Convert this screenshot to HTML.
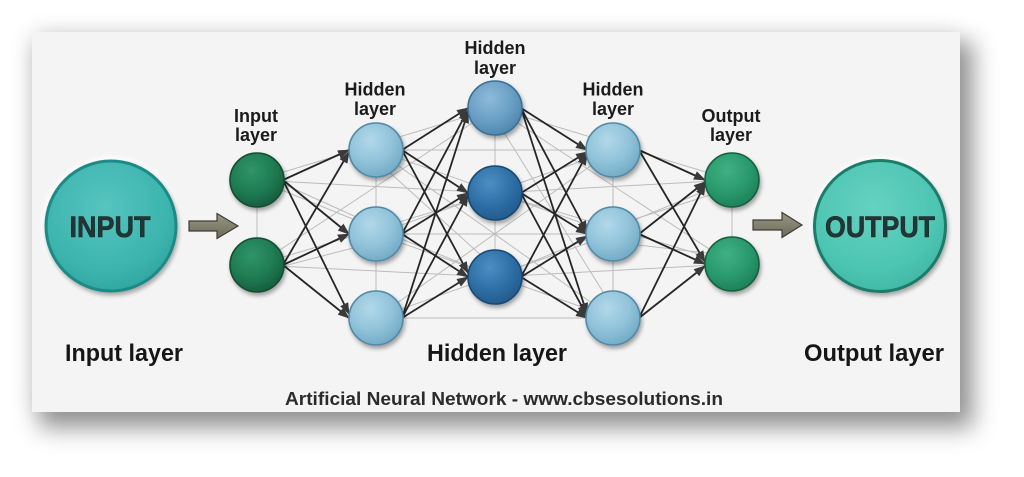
<!DOCTYPE html>
<html>
<head>
<meta charset="utf-8">
<style>
  html,body{margin:0;padding:0;background:#ffffff;}
  body{width:1024px;height:477px;position:relative;overflow:hidden;}
  .card{position:absolute;left:32px;top:32px;width:928px;height:380px;background:#f4f4f4;
    box-shadow:10px 13px 22px 3px rgba(0,0,0,0.42), -3px -3px 22px rgba(0,0,0,0.06);}
  svg{position:absolute;left:0;top:0;}
  text{font-family:"Liberation Sans",Arial,sans-serif;font-weight:bold;}
</style>
</head>
<body>
<div class="card"></div>
<svg width="1024" height="477" viewBox="0 0 1024 477" xmlns="http://www.w3.org/2000/svg">
  <defs>
    <marker id="ah" viewBox="0 0 12 9" refX="11" refY="4.5" markerWidth="12" markerHeight="9" markerUnits="userSpaceOnUse" orient="auto">
      <path d="M0,0 L12,4.5 L0,9 z" fill="#3a3a3a"/>
    </marker>
    <filter id="sh" x="-30%" y="-30%" width="170%" height="170%">
      <feGaussianBlur in="SourceAlpha" stdDeviation="2.2"/>
      <feOffset dx="1.5" dy="3" result="o"/>
      <feComponentTransfer><feFuncA type="linear" slope="0.35"/></feComponentTransfer>
      <feMerge><feMergeNode/><feMergeNode in="SourceGraphic"/></feMerge>
    </filter>
    <filter id="halo" x="-30%" y="-30%" width="160%" height="160%">
      <feGaussianBlur stdDeviation="2"/>
    </filter>
    <radialGradient id="gGreen" cx="40%" cy="32%" r="70%">
      <stop offset="0" stop-color="#2f9568"/><stop offset="0.6" stop-color="#1f7b52"/><stop offset="1" stop-color="#165e3e"/>
    </radialGradient>
    <radialGradient id="gLB" cx="40%" cy="32%" r="70%">
      <stop offset="0" stop-color="#b2d8e9"/><stop offset="0.6" stop-color="#8fc2d9"/><stop offset="1" stop-color="#74aac6"/>
    </radialGradient>
    <radialGradient id="gMB" cx="40%" cy="32%" r="70%">
      <stop offset="0" stop-color="#8dbad9"/><stop offset="0.6" stop-color="#6a9fc5"/><stop offset="1" stop-color="#5087ae"/>
    </radialGradient>
    <radialGradient id="gDB" cx="40%" cy="32%" r="70%">
      <stop offset="0" stop-color="#4d8fc2"/><stop offset="0.6" stop-color="#2e6fa6"/><stop offset="1" stop-color="#235b8b"/>
    </radialGradient>
    <radialGradient id="gOG" cx="40%" cy="32%" r="70%">
      <stop offset="0" stop-color="#3eb182"/><stop offset="0.6" stop-color="#2a9a6d"/><stop offset="1" stop-color="#1f7f58"/>
    </radialGradient>
    <radialGradient id="gIN" cx="45%" cy="35%" r="70%">
      <stop offset="0" stop-color="#56c4bf"/><stop offset="0.7" stop-color="#3db4ae"/><stop offset="1" stop-color="#2fa39d"/>
    </radialGradient>
    <radialGradient id="gOUT" cx="45%" cy="35%" r="70%">
      <stop offset="0" stop-color="#65d2c0"/><stop offset="0.7" stop-color="#4dc5b2"/><stop offset="1" stop-color="#3fb4a2"/>
    </radialGradient>
    <linearGradient id="gArr" x1="0" y1="0" x2="0" y2="1">
      <stop offset="0" stop-color="#9a9784"/><stop offset="1" stop-color="#6c6a5a"/>
    </linearGradient>
  </defs>

  <!-- faint gray mesh -->
  <g stroke="#bcbcbc" stroke-width="1" fill="none">
    <line x1="257" y1="180" x2="257" y2="265"/>
    <line x1="376" y1="150" x2="376" y2="318"/>
    <line x1="495" y1="108" x2="495" y2="277"/>
    <line x1="613" y1="150" x2="613" y2="318"/>
    <line x1="732" y1="180" x2="732" y2="264"/>
    <line x1="257" y1="180" x2="495" y2="108"/>
    <line x1="257" y1="180" x2="495" y2="193"/>
    <line x1="257" y1="180" x2="495" y2="277"/>
    <line x1="257" y1="265" x2="495" y2="108"/>
    <line x1="257" y1="265" x2="495" y2="193"/>
    <line x1="257" y1="265" x2="495" y2="277"/>
    <line x1="376" y1="150" x2="613" y2="150"/>
    <line x1="376" y1="150" x2="613" y2="234"/>
    <line x1="376" y1="150" x2="613" y2="318"/>
    <line x1="376" y1="234" x2="613" y2="150"/>
    <line x1="376" y1="234" x2="613" y2="234"/>
    <line x1="376" y1="234" x2="613" y2="318"/>
    <line x1="376" y1="318" x2="613" y2="150"/>
    <line x1="376" y1="318" x2="613" y2="234"/>
    <line x1="376" y1="318" x2="613" y2="318"/>
    <line x1="495" y1="108" x2="732" y2="180"/>
    <line x1="495" y1="108" x2="732" y2="264"/>
    <line x1="495" y1="193" x2="732" y2="180"/>
    <line x1="495" y1="193" x2="732" y2="264"/>
    <line x1="495" y1="277" x2="732" y2="180"/>
    <line x1="495" y1="277" x2="732" y2="264"/>
    <line x1="257" y1="172" x2="376" y2="226"/>
    <line x1="257" y1="273" x2="376" y2="242"/>
    <line x1="613" y1="226" x2="732" y2="188"/>
    <line x1="613" y1="242" x2="732" y2="256"/>
    <line x1="376" y1="160" x2="495" y2="268"/>
    <line x1="495" y1="118" x2="613" y2="308"/>
  </g>

  <!-- dark arrows: source right edge -> target left edge -->
  <g stroke="#262626" stroke-width="1.8" fill="none" marker-end="url(#ah)">
    <!-- IN -> H1 -->
    <line x1="283" y1="180" x2="349" y2="150"/>
    <line x1="283" y1="180" x2="349" y2="234"/>
    <line x1="283" y1="180" x2="349" y2="314"/>
    <line x1="283" y1="265" x2="349" y2="152"/>
    <line x1="283" y1="265" x2="349" y2="234"/>
    <line x1="283" y1="265" x2="349" y2="318"/>
    <!-- H1 -> H2 -->
    <line x1="402" y1="150" x2="468" y2="108"/>
    <line x1="402" y1="150" x2="468" y2="193"/>
    <line x1="402" y1="150" x2="468" y2="273"/>
    <line x1="402" y1="234" x2="468" y2="110"/>
    <line x1="402" y1="234" x2="468" y2="193"/>
    <line x1="402" y1="234" x2="468" y2="277"/>
    <line x1="402" y1="318" x2="468" y2="112"/>
    <line x1="402" y1="318" x2="468" y2="195"/>
    <line x1="402" y1="318" x2="468" y2="277"/>
    <!-- H2 -> H3 -->
    <line x1="521" y1="108" x2="587" y2="150"/>
    <line x1="521" y1="108" x2="587" y2="232"/>
    <line x1="521" y1="108" x2="587" y2="314"/>
    <line x1="521" y1="193" x2="587" y2="152"/>
    <line x1="521" y1="193" x2="587" y2="234"/>
    <line x1="521" y1="193" x2="587" y2="316"/>
    <line x1="521" y1="277" x2="587" y2="154"/>
    <line x1="521" y1="277" x2="587" y2="236"/>
    <line x1="521" y1="277" x2="587" y2="318"/>
    <!-- H3 -> OUT -->
    <line x1="639" y1="150" x2="705" y2="180"/>
    <line x1="639" y1="150" x2="705" y2="262"/>
    <line x1="639" y1="234" x2="705" y2="182"/>
    <line x1="639" y1="234" x2="705" y2="264"/>
    <line x1="639" y1="318" x2="705" y2="184"/>
    <line x1="639" y1="318" x2="705" y2="266"/>
  </g>

  <!-- white halos behind nodes -->
  <g fill="#ffffff" opacity="0.9" filter="url(#halo)">
    <circle cx="111" cy="226" r="69"/><circle cx="880" cy="226" r="69"/>
  </g>

  <!-- nodes -->
  <g filter="url(#sh)" stroke-width="1.6">
    <circle cx="257" cy="180" r="27" fill="url(#gGreen)" stroke="#124d32"/>
    <circle cx="257" cy="265" r="27" fill="url(#gGreen)" stroke="#124d32"/>

    <circle cx="376" cy="150" r="27" fill="url(#gLB)" stroke="#5189a8"/>
    <circle cx="376" cy="234" r="27" fill="url(#gLB)" stroke="#5189a8"/>
    <circle cx="376" cy="318" r="27" fill="url(#gLB)" stroke="#5189a8"/>

    <circle cx="495" cy="108" r="27" fill="url(#gMB)" stroke="#3b6f95"/>
    <circle cx="495" cy="193" r="27" fill="url(#gDB)" stroke="#184a74"/>
    <circle cx="495" cy="277" r="27" fill="url(#gDB)" stroke="#184a74"/>

    <circle cx="613" cy="150" r="27" fill="url(#gLB)" stroke="#5189a8"/>
    <circle cx="613" cy="234" r="27" fill="url(#gLB)" stroke="#5189a8"/>
    <circle cx="613" cy="318" r="27" fill="url(#gLB)" stroke="#5189a8"/>

    <circle cx="732" cy="180" r="27" fill="url(#gOG)" stroke="#16603f"/>
    <circle cx="732" cy="264" r="27" fill="url(#gOG)" stroke="#16603f"/>

    <circle cx="111" cy="226" r="65" fill="url(#gIN)" stroke="#1d8a86" stroke-width="3"/>
    <circle cx="880" cy="226" r="65.5" fill="url(#gOUT)" stroke="#1b7c6a" stroke-width="3"/>
  </g>

  <!-- big labels -->
  <text x="110" y="237" font-size="30" fill="#233636" text-anchor="middle" textLength="81" lengthAdjust="spacingAndGlyphs" stroke="#1a2a2a" stroke-width="0.6">INPUT</text>
  <text x="880" y="237" font-size="30" fill="#233636" text-anchor="middle" textLength="110" lengthAdjust="spacingAndGlyphs" stroke="#1a2a2a" stroke-width="0.6">OUTPUT</text>

  <!-- fat arrows -->
  <path d="M189,221 L217,221 L217,213.5 L238,226 L217,238.5 L217,231 L189,231 Z" fill="url(#gArr)" stroke="#3e3d34" stroke-width="1.2"/>
  <path d="M753,220 L782,220 L782,212.5 L802,225 L782,237.5 L782,230 L753,230 Z" fill="url(#gArr)" stroke="#3e3d34" stroke-width="1.2"/>

  <!-- small layer labels -->
  <g font-size="18" fill="#1b1b1b" text-anchor="middle">
    <text x="256" y="122">Input</text>
    <text x="256" y="141">layer</text>
    <text x="375" y="95.5">Hidden</text>
    <text x="375" y="115">layer</text>
    <text x="495" y="54">Hidden</text>
    <text x="495" y="74">layer</text>
    <text x="613" y="95.5">Hidden</text>
    <text x="613" y="115">layer</text>
    <text x="731" y="122">Output</text>
    <text x="731" y="141">layer</text>
  </g>

  <!-- bottom labels -->
  <g font-size="24" fill="#161616">
    <text x="65" y="361" textLength="118" lengthAdjust="spacingAndGlyphs">Input layer</text>
    <text x="427" y="361" textLength="140" lengthAdjust="spacingAndGlyphs">Hidden layer</text>
    <text x="804" y="361" textLength="140" lengthAdjust="spacingAndGlyphs">Output layer</text>
  </g>

  <text x="285" y="405" font-size="18" fill="#2b2b2b" textLength="438" lengthAdjust="spacingAndGlyphs">Artificial Neural Network - www.cbsesolutions.in</text>
</svg>
</body>
</html>
